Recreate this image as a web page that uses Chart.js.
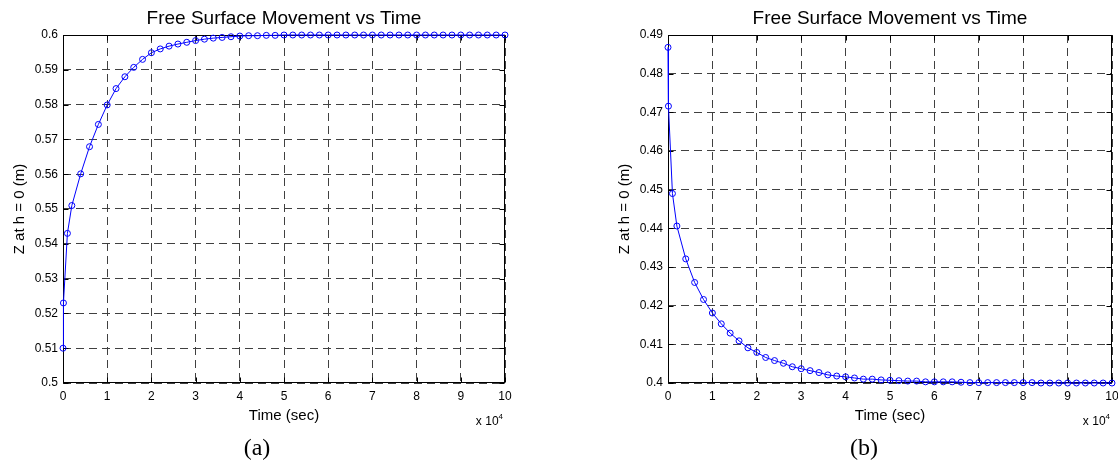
<!DOCTYPE html>
<html lang="en">
<head>
    <meta charset="UTF-8">
    <title>Free Surface Movement vs Time</title>
    <script src="https://cdn.jsdelivr.net/npm/chart.js"></script>
    <style>
        body { margin: 0; background: #fff; width: 1118px; height: 464px; position: relative; overflow: hidden; }
        canvas { position: absolute; top: 0; }
        #chartA { left: 0; }
        #chartB { left: 560px; }
        .caption { position: absolute; top: 434px; font-family: "Liberation Serif", "Times New Roman", serif; font-size: 24px; color: #000; transform: translateX(-50%); }
    </style>
</head>
<body>
    <canvas id="chartA" width="560" height="464"></canvas>
    <canvas id="chartB" width="558" height="464"></canvas>
    <div class="caption" style="left:257px">(a)</div>
    <div class="caption" style="left:864px">(b)</div>

    <script>
        // time in seconds, same sampling for both runs
        const times = [0, 100, 1000, 2000, 4000, 6000, 8000, 10000, 12000, 14000, 16000, 18000,
            20000, 22000, 24000, 26000, 28000, 30000, 32000, 34000, 36000, 38000, 40000, 42000,
            44000, 46000, 48000, 50000, 52000, 54000, 56000, 58000, 60000, 62000, 64000, 66000,
            68000, 70000, 72000, 74000, 76000, 78000, 80000, 82000, 84000, 86000, 88000, 90000,
            92000, 94000, 96000, 98000, 100000];

        // (a) free surface rising to 0.6 m
        const zA = [0.510, 0.523, 0.543, 0.551, 0.5601, 0.5679, 0.5743, 0.5799, 0.5846, 0.5880,
            0.5907, 0.5930, 0.5949, 0.5960, 0.5968, 0.5974, 0.5979, 0.5984, 0.5988, 0.5991,
            0.5993, 0.5995, 0.5997, 0.5998, 0.5998, 0.5999, 0.5999, 0.6, 0.6, 0.6, 0.6, 0.6,
            0.6, 0.6, 0.6, 0.6, 0.6, 0.6, 0.6, 0.6, 0.6, 0.6, 0.6, 0.6, 0.6, 0.6, 0.6, 0.6,
            0.6, 0.6, 0.6, 0.6, 0.6];

        // (b) free surface falling to 0.4 m
        const zB = [0.4868, 0.4716, 0.4490, 0.4406, 0.4321, 0.4260, 0.4216, 0.4181, 0.4153, 0.4129,
            0.4109, 0.4091, 0.4079, 0.4066, 0.4058, 0.4051, 0.4042, 0.4037, 0.4032, 0.4027,
            0.4021, 0.4018, 0.4016, 0.4013, 0.4010, 0.4010, 0.4008, 0.4007, 0.4006, 0.4005,
            0.4005, 0.4003, 0.4003, 0.4003, 0.4003, 0.4002, 0.4001, 0.4001, 0.4001, 0.4001,
            0.4001, 0.4001, 0.4001, 0.4001, 0.4000, 0.4000, 0.4000, 0.4000, 0.4000, 0.4000,
            0.4000, 0.4000, 0.4000];

        const xTicks = [0, 10000, 20000, 30000, 40000, 50000, 60000, 70000, 80000, 90000, 100000];
        const xTickLabels = ['0', '1', '2', '3', '4', '5', '6', '7', '8', '9', '10'];
        const yTicksA = [0.5, 0.51, 0.52, 0.53, 0.54, 0.55, 0.56, 0.57, 0.58, 0.59, 0.6];
        const yTickLabelsA = ['0.5', '0.51', '0.52', '0.53', '0.54', '0.55', '0.56', '0.57', '0.58', '0.59', '0.6'];
        const yTicksB = [0.4, 0.41, 0.42, 0.43, 0.44, 0.45, 0.46, 0.47, 0.48, 0.49];
        const yTickLabelsB = ['0.4', '0.41', '0.42', '0.43', '0.44', '0.45', '0.46', '0.47', '0.48', '0.49'];

        const plotTitle = 'Free Surface Movement vs Time';
        const xTitle = 'Time (sec)';
        const yTitle = 'Z at h = 0 (m)';

        const fontFamily = '"Liberation Sans", Arial, sans-serif';

        // matlab style box, inward ticks, title and the x 10^4 multiplier
        const matlabAxes = {
            id: 'matlabAxes',
            beforeDatasetsDraw(chart) {
                const { ctx, chartArea: a, scales } = chart;
                const l = Math.round(a.left) + 0.5, r = Math.round(a.right) - 0.5;
                const t = Math.round(a.top) + 0.5, b = Math.round(a.bottom) - 0.5;
                ctx.save();
                ctx.strokeStyle = '#000';
                ctx.lineWidth = 1;
                ctx.strokeRect(l, t, r - l, b - t);
                ctx.beginPath();
                scales.x.ticks.forEach(tk => {
                    const px = Math.round(scales.x.getPixelForValue(tk.value)) + 0.5;
                    ctx.moveTo(px, b); ctx.lineTo(px, b - 5);
                    ctx.moveTo(px, t); ctx.lineTo(px, t + 5);
                });
                scales.y.ticks.forEach(tk => {
                    const py = Math.round(scales.y.getPixelForValue(tk.value)) + 0.5;
                    ctx.moveTo(l, py); ctx.lineTo(l + 5, py);
                    ctx.moveTo(r, py); ctx.lineTo(r - 5, py);
                });
                ctx.stroke();
                ctx.restore();
            },
            afterDraw(chart) {
                const { ctx, chartArea: a } = chart;
                ctx.save();
                ctx.fillStyle = '#000';
                ctx.textBaseline = 'alphabetic';
                ctx.textAlign = 'center';
                ctx.font = '19px ' + fontFamily;
                ctx.fillText(plotTitle, (a.left + a.right) / 2, 24);

                ctx.textAlign = 'right';
                ctx.font = '8px ' + fontFamily;
                const supW = ctx.measureText('4').width;
                ctx.fillText('4', a.right - 2, 419);
                ctx.font = '12px ' + fontFamily;
                ctx.fillText('x 10', a.right - 2 - supW, 425);
                ctx.restore();
            }
        };

        function makeChart(id, data, yTicks, yLabels, padding) {
            const ctx = document.getElementById(id).getContext('2d');
            return new Chart(ctx, {
                type: 'scatter',
                data: {
                    datasets: [{
                        data: times.map((t, i) => ({ x: t, y: data[i] })),
                        showLine: true,
                        borderColor: '#0000ff',
                        borderWidth: 1,
                        tension: 0,
                        pointRadius: 3,
                        pointBorderWidth: 1,
                        pointBorderColor: '#0000ff',
                        pointBackgroundColor: 'rgba(0,0,0,0)',
                        clip: false
                    }]
                },
                options: {
                    responsive: false,
                    animation: false,
                    layout: { padding: padding },
                    plugins: { legend: { display: false }, tooltip: { enabled: false } },
                    scales: {
                        x: {
                            type: 'linear',
                            min: 0,
                            max: 100000,
                            afterBuildTicks: s => { s.ticks = xTicks.map(v => ({ value: v })); },
                            afterFit: s => { s.height = 50; s.paddingLeft = 0; s.paddingRight = 0; },
                            ticks: {
                                callback: (v, i) => xTickLabels[i],
                                color: '#000',
                                padding: 6,
                                maxRotation: 0,
                                font: { family: fontFamily, size: 12 }
                            },
                            grid: { color: '#404040', lineWidth: 1, drawTicks: false },
                            border: { display: false, dash: [8, 5] },
                            title: {
                                display: true,
                                text: xTitle,
                                color: '#000',
                                font: { family: fontFamily, size: 15 },
                                padding: { top: 0, bottom: 8 }
                            }
                        },
                        y: {
                            type: 'linear',
                            min: yTicks[0],
                            max: yTicks[yTicks.length - 1],
                            afterBuildTicks: s => { s.ticks = yTicks.map(v => ({ value: v })); },
                            afterFit: s => { s.width = 55; s.paddingTop = 0; s.paddingBottom = 0; },
                            ticks: {
                                callback: (v, i) => yLabels[i],
                                color: '#000',
                                padding: 5,
                                font: { family: fontFamily, size: 12 }
                            },
                            grid: { color: '#404040', lineWidth: 1, drawTicks: false },
                            border: { display: false, dash: [8, 5] },
                            title: {
                                display: true,
                                text: yTitle,
                                color: '#000',
                                font: { family: fontFamily, size: 15 },
                                padding: { top: 3, bottom: 0 }
                            }
                        }
                    }
                },
                plugins: [matlabAxes]
            });
        }

        makeChart('chartA', zA, yTicksA, yTickLabelsA, { left: 8, right: 55, top: 35, bottom: 31 });
        makeChart('chartB', zB, yTicksB, yTickLabelsB, { left: 53, right: 6, top: 35, bottom: 31 });
    </script>
</body>
</html>
